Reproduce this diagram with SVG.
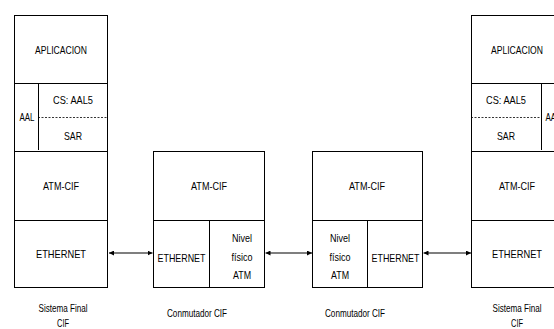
<svg xmlns="http://www.w3.org/2000/svg" width="554" height="329" viewBox="0 0 554 329">
<defs>
<style>
.b{fill:none;stroke:#000;stroke-width:1}
.d{fill:none;stroke:#000;stroke-width:0.8;stroke-dasharray:2,1.5}
.c{fill:none;stroke:#555;stroke-width:1.3}
text{font-family:"Liberation Sans",Arial,sans-serif;font-size:11px;fill:#000;text-anchor:middle}
</style>
<marker id="ah" viewBox="0 0 6 6" refX="6" refY="3" markerWidth="5" markerHeight="5" orient="auto-start-reverse" markerUnits="userSpaceOnUse">
<path d="M0,0L6,3L0,6z" fill="#000"/>
</marker>
</defs>
<rect width="554" height="329" fill="#fff"/>
<g id="sistema-final-izq">
<rect class="b" x="14.5" y="15.5" width="93" height="272"/>
<line class="b" x1="14" y1="83.5" x2="108" y2="83.5"/>
<line class="b" x1="14" y1="151.5" x2="108" y2="151.5"/>
<line class="b" x1="14" y1="220.5" x2="108" y2="220.5"/>
<line class="b" x1="38.5" y1="83" x2="38.5" y2="150"/>
<line class="d" x1="38" y1="117.5" x2="108" y2="117.5"/>
<text x="61" y="54" textLength="52" lengthAdjust="spacingAndGlyphs">APLICACION</text>
<text x="27" y="121" textLength="15" lengthAdjust="spacingAndGlyphs">AAL</text>
<text x="73" y="104" textLength="40" lengthAdjust="spacingAndGlyphs">CS: AAL5</text>
<text x="73" y="140" textLength="18" lengthAdjust="spacingAndGlyphs">SAR</text>
<text x="61" y="190" textLength="36" lengthAdjust="spacingAndGlyphs">ATM-CIF</text>
<text x="61" y="258" textLength="50" lengthAdjust="spacingAndGlyphs">ETHERNET</text>
<text x="63" y="312" textLength="49" lengthAdjust="spacingAndGlyphs">Sistema Final</text>
<text x="63" y="327" textLength="12" lengthAdjust="spacingAndGlyphs">CIF</text>
</g>
<g id="conmutador-1">
<rect class="b" x="153.5" y="151.5" width="111" height="136"/>
<line class="b" x1="153" y1="220.5" x2="265" y2="220.5"/>
<line class="b" x1="209.5" y1="220" x2="209.5" y2="288"/>
<text x="209" y="190" textLength="36" lengthAdjust="spacingAndGlyphs">ATM-CIF</text>
<text x="181.5" y="262" textLength="48" lengthAdjust="spacingAndGlyphs">ETHERNET</text>
<text x="242" y="242" textLength="20" lengthAdjust="spacingAndGlyphs">Nivel</text>
<text x="242" y="261" textLength="21" lengthAdjust="spacingAndGlyphs">físico</text>
<text x="242" y="279" textLength="18" lengthAdjust="spacingAndGlyphs">ATM</text>
<text x="197" y="317" textLength="60" lengthAdjust="spacingAndGlyphs">Conmutador CIF</text>
</g>
<g id="conmutador-2">
<rect class="b" x="312.5" y="151.5" width="110" height="136"/>
<line class="b" x1="312" y1="220.5" x2="423" y2="220.5"/>
<line class="b" x1="367.5" y1="220" x2="367.5" y2="288"/>
<text x="367" y="190" textLength="36" lengthAdjust="spacingAndGlyphs">ATM-CIF</text>
<text x="340" y="242" textLength="20" lengthAdjust="spacingAndGlyphs">Nivel</text>
<text x="340" y="261" textLength="21" lengthAdjust="spacingAndGlyphs">físico</text>
<text x="340" y="279" textLength="18" lengthAdjust="spacingAndGlyphs">ATM</text>
<text x="395.5" y="262" textLength="48" lengthAdjust="spacingAndGlyphs">ETHERNET</text>
<text x="355" y="317" textLength="60" lengthAdjust="spacingAndGlyphs">Conmutador CIF</text>
</g>
<g id="sistema-final-der">
<rect class="b" x="471.5" y="15.5" width="93" height="272"/>
<line class="b" x1="471" y1="83.5" x2="565" y2="83.5"/>
<line class="b" x1="471" y1="151.5" x2="565" y2="151.5"/>
<line class="b" x1="471" y1="220.5" x2="565" y2="220.5"/>
<line class="b" x1="541.5" y1="83" x2="541.5" y2="150"/>
<line class="d" x1="471" y1="117.5" x2="541" y2="117.5"/>
<text x="517" y="54" textLength="52" lengthAdjust="spacingAndGlyphs">APLICACION</text>
<text x="553" y="121" textLength="15" lengthAdjust="spacingAndGlyphs">AAL</text>
<text x="506" y="104" textLength="40" lengthAdjust="spacingAndGlyphs">CS: AAL5</text>
<text x="506" y="140" textLength="18" lengthAdjust="spacingAndGlyphs">SAR</text>
<text x="517" y="190" textLength="36" lengthAdjust="spacingAndGlyphs">ATM-CIF</text>
<text x="517" y="258" textLength="50" lengthAdjust="spacingAndGlyphs">ETHERNET</text>
<text x="517" y="312" textLength="49" lengthAdjust="spacingAndGlyphs">Sistema Final</text>
<text x="517" y="327" textLength="12" lengthAdjust="spacingAndGlyphs">CIF</text>
</g>
<g id="conectores">
<line class="c" x1="109" y1="253" x2="152.5" y2="253" marker-start="url(#ah)" marker-end="url(#ah)"/>
<line class="c" x1="265.5" y1="253" x2="312" y2="253" marker-start="url(#ah)" marker-end="url(#ah)"/>
<line class="c" x1="423.5" y1="253" x2="471" y2="253" marker-start="url(#ah)" marker-end="url(#ah)"/>
</g>
</svg>
